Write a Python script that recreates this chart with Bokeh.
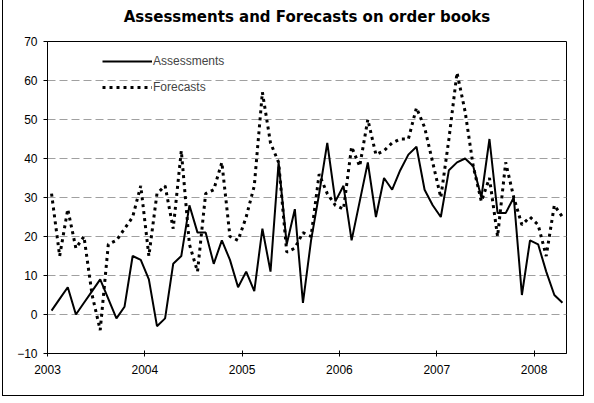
from bokeh.plotting import figure
from bokeh.embed import file_html
from bokeh.resources import INLINE
from bokeh.models import Legend, LegendItem, FixedTicker, Range1d, Title

# Monthly data, Jan 2003 .. Apr 2008
chart_title = "Assessments and Forecasts on order books"
year_labels = ["2003", "2004", "2005", "2006", "2007", "2008"]
assessments = [1, 4, 7, 0, 3, 6, 9, 4, -1, 2, 15, 14,
               9, -3, -1, 13, 15, 28, 21, 21, 13, 19, 14, 7,
               11, 6, 22, 11, 39, 18, 27, 3, 19, 31, 44, 29,
               33, 19, 29, 39, 25, 35, 32, 37, 41, 43, 32, 28,
               25, 37, 39, 40, 38, 30, 45, 26, 26, 30, 5, 19,
               18, 11, 5, 3]
forecasts = [31, 15, 27, 17, 20, 5, -4, 18, 19, 22, 25, 33,
             15, 31, 33, 22, 42, 18, 11, 31, 32, 39, 20, 19,
             25, 33, 57, 44, 39, 16, 17, 21, 20, 36, 31, 28,
             27, 43, 38, 50, 41, 42, 44, 45, 45, 53, 48, 39,
             30, 45, 62, 52, 38, 29, 35, 20, 39, 30, 23, 25,
             23, 15, 28, 25]

n = len(assessments)
xs = [i + 0.5 for i in range(n)]
year_ticks = [12 * i for i in range(len(year_labels))]

FONT = "Liberation Sans"

p = figure(width=580, height=395, output_backend="svg", toolbar_location=None,
           title=None,
           x_range=Range1d(0, n), y_range=Range1d(-10, 70),
           min_border_left=44, min_border_right=17, min_border_top=41,
           min_border_bottom=42)
p.styles = {"outline": "1px solid black", "margin-left": "3px"}

# an invisible spacer between plot area and title lifts the title up
spacer = Title(text=" ", text_font=FONT, text_font_size="8px", standoff=5,
               text_color="white")
main_title = Title(text=chart_title, align="center", text_font="DejaVu Sans",
                   text_font_size="15px", text_font_style="bold",
                   text_color="black", standoff=0, offset=1)
p.add_layout(spacer, "above")
p.add_layout(main_title, "above")

p.outline_line_color = "black"
p.outline_line_width = 1
p.outline_line_alpha = 1

# axes
p.xaxis.ticker = FixedTicker(ticks=year_ticks)
p.xaxis.major_label_overrides = {t: l for t, l in zip(year_ticks, year_labels)}
p.xaxis.minor_tick_line_color = None
p.xaxis.major_tick_in = 3
p.xaxis.major_tick_out = 3
p.xaxis.major_label_standoff = 8
p.yaxis.ticker = FixedTicker(ticks=list(range(-10, 80, 10)))
p.yaxis.minor_tick_line_color = None
p.yaxis.major_tick_in = 0
p.yaxis.major_tick_out = 4
p.yaxis.major_label_standoff = 6
for ax in (p.xaxis, p.yaxis):
    ax.axis_line_color = "black"
    ax.major_tick_line_color = "black"
    ax.major_label_text_font = FONT
    ax.major_label_text_font_size = "12px"
    ax.major_label_text_color = "black"

p.xgrid.grid_line_color = None
p.ygrid.ticker = FixedTicker(ticks=list(range(0, 70, 10)))
p.ygrid.grid_line_color = "#a0a0a0"
p.ygrid.grid_line_dash = "8 4"
p.ygrid.grid_line_width = 1

r_a = p.line(xs, assessments, line_color="black", line_width=2)
r_f = p.line(xs, forecasts, line_color="black", line_width=3, line_dash="3 4")

legend = Legend(items=[LegendItem(label="Assessments", renderers=[r_a]),
                       LegendItem(label="Forecasts", renderers=[r_f])],
                location=(55, 256), padding=0, margin=0, spacing=6,
                glyph_width=50, glyph_height=20, label_standoff=1,
                border_line_color=None, background_fill_alpha=0,
                label_text_font=FONT, label_text_font_size="12px")
p.add_layout(legend)

open("out.html", "w").write(file_html(p, INLINE))
